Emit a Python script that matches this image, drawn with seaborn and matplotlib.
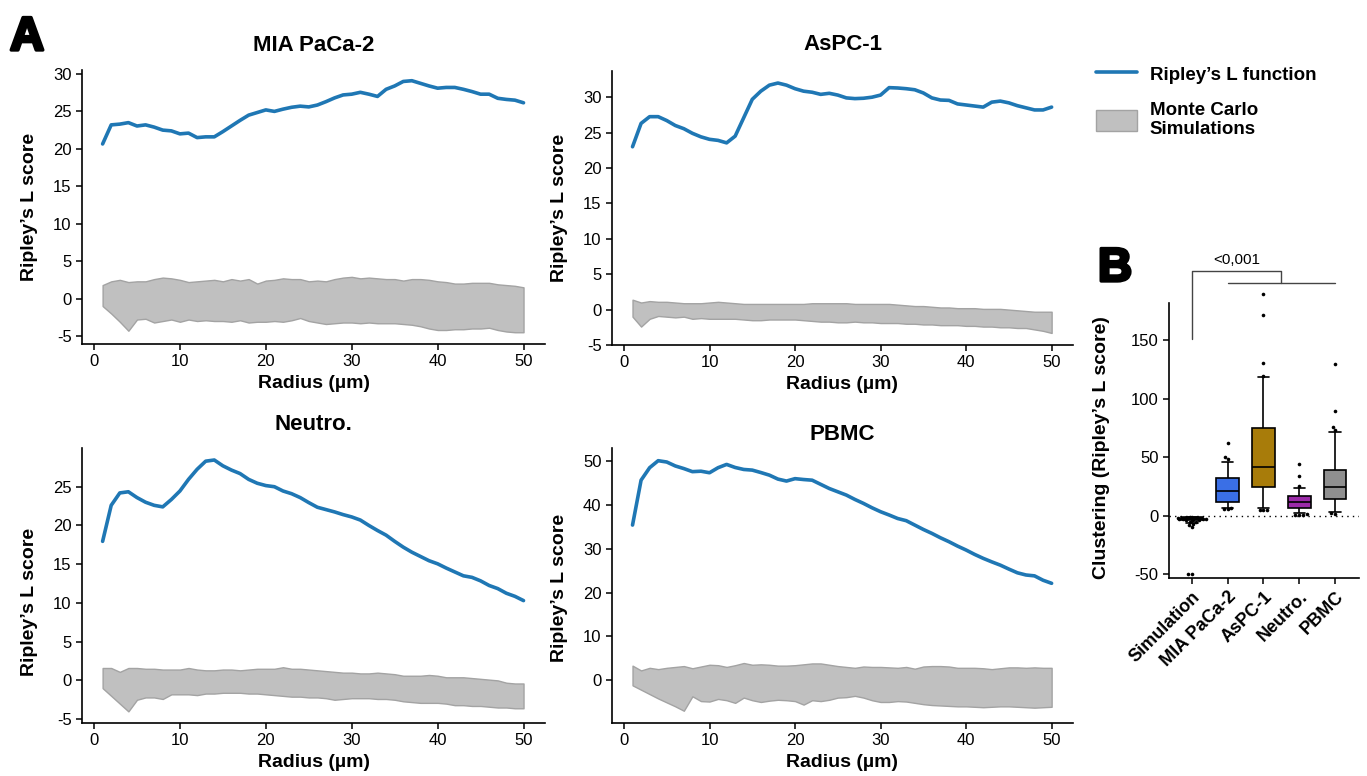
import numpy as np
import pandas as pd
import matplotlib
matplotlib.use("Agg")
import matplotlib.pyplot as plt
import matplotlib.patheffects as pe
from matplotlib.lines import Line2D
from matplotlib.patches import Patch
import seaborn as sns

# ---- data ----
radius = list(range(1, 51))

mia_L = [20.65, 23.2, 23.3, 23.5, 23.05, 23.2, 22.9, 22.5, 22.4, 22.0,
         22.1, 21.5, 21.6, 21.6, 22.3, 23.05, 23.8, 24.5, 24.85, 25.2,
         25.0, 25.3, 25.55, 25.7, 25.6, 25.85, 26.3, 26.8, 27.2, 27.3,
         27.55, 27.3, 27.0, 27.95, 28.4, 29.0, 29.1, 28.75, 28.4, 28.1,
         28.2, 28.2, 27.95, 27.65, 27.3, 27.3, 26.75, 26.6, 26.5, 26.15]
mia_hi = [1.8, 2.3, 2.5, 2.2, 2.3, 2.3, 2.6, 2.8, 2.7, 2.5,
          2.2, 2.3, 2.4, 2.5, 2.3, 2.6, 2.4, 2.6, 2.0, 2.4,
          2.5, 2.7, 2.6, 2.6, 2.3, 2.4, 2.3, 2.6, 2.8, 2.9,
          2.7, 2.8, 2.7, 2.6, 2.6, 2.4, 2.6, 2.6, 2.5, 2.3,
          2.2, 2.0, 2.0, 2.1, 2.1, 2.1, 1.9, 1.8, 1.7, 1.5]
mia_lo = [-1.0, -2.0, -3.1, -4.3, -2.8, -2.7, -3.2, -3.0, -2.8, -3.1,
          -2.8, -3.0, -2.9, -3.0, -3.0, -3.1, -2.9, -3.2, -3.1, -3.1,
          -3.0, -3.1, -2.9, -2.6, -3.0, -3.2, -3.4, -3.3, -3.2, -3.2,
          -3.3, -3.2, -3.3, -3.3, -3.3, -3.4, -3.5, -3.7, -4.0, -4.2,
          -4.2, -4.1, -4.1, -4.0, -4.0, -3.9, -4.2, -4.4, -4.5, -4.5]

aspc_L = [23.0, 26.3, 27.25, 27.25, 26.7, 26.0, 25.55, 24.9, 24.4, 24.05,
          23.9, 23.55, 24.5, 27.1, 29.7, 30.85, 31.7, 32.0, 31.7, 31.2,
          30.85, 30.7, 30.4, 30.55, 30.3, 29.9, 29.8, 29.85, 30.0, 30.3,
          31.35, 31.3, 31.2, 31.05, 30.6, 29.9, 29.6, 29.55, 29.05, 28.9,
          28.75, 28.6, 29.3, 29.45, 29.2, 28.8, 28.5, 28.2, 28.2, 28.6]
aspc_hi = [1.4, 1.0, 1.2, 1.1, 1.1, 1.0, 0.9, 0.9, 0.9, 1.0,
           1.1, 1.0, 0.9, 0.8, 0.8, 0.8, 0.8, 0.8, 0.8, 0.8,
           0.8, 0.9, 0.9, 0.9, 0.9, 0.9, 0.8, 0.8, 0.8, 0.8,
           0.8, 0.7, 0.6, 0.5, 0.5, 0.4, 0.3, 0.3, 0.2, 0.2,
           0.2, 0.1, 0.1, 0.1, 0.0, -0.1, -0.2, -0.3, -0.3, -0.3]
aspc_lo = [-1.0, -2.4, -1.3, -0.9, -1.0, -1.1, -1.0, -1.3, -1.2, -1.3,
           -1.3, -1.3, -1.3, -1.4, -1.5, -1.5, -1.4, -1.4, -1.4, -1.4,
           -1.5, -1.6, -1.7, -1.7, -1.8, -1.8, -1.7, -1.8, -1.8, -1.9,
           -1.9, -1.9, -2.0, -2.0, -2.1, -2.1, -2.2, -2.2, -2.2, -2.3,
           -2.3, -2.4, -2.4, -2.5, -2.5, -2.6, -2.6, -2.8, -3.0, -3.3]

neutro_L = [17.95, 22.6, 24.2, 24.35, 23.6, 23.0, 22.6, 22.4, 23.35, 24.45,
            25.95, 27.25, 28.3, 28.45, 27.7, 27.15, 26.7, 25.95, 25.45, 25.15,
            25.0, 24.45, 24.1, 23.6, 22.95, 22.35, 22.05, 21.75, 21.4, 21.1,
            20.7, 20.0, 19.35, 18.75, 17.95, 17.2, 16.55, 16.0, 15.45, 15.05,
            14.5, 14.0, 13.5, 13.3, 12.85, 12.25, 11.85, 11.25, 10.85, 10.3]
neutro_hi = [1.6, 1.6, 1.1, 1.6, 1.6, 1.5, 1.5, 1.4, 1.4, 1.4,
             1.6, 1.4, 1.3, 1.3, 1.4, 1.4, 1.3, 1.4, 1.5, 1.5,
             1.5, 1.7, 1.5, 1.5, 1.4, 1.3, 1.2, 1.1, 1.0, 1.0,
             0.9, 0.9, 1.0, 0.9, 0.8, 0.6, 0.6, 0.6, 0.7, 0.6,
             0.4, 0.4, 0.4, 0.3, 0.2, 0.1, 0.0, -0.3, -0.4, -0.4]
neutro_lo = [-1.0, -2.0, -3.0, -4.0, -2.5, -2.2, -2.2, -2.4, -1.8, -1.8,
             -1.8, -1.9, -1.7, -1.7, -1.6, -1.6, -1.6, -1.7, -1.7, -1.8,
             -1.9, -2.0, -2.1, -2.1, -2.2, -2.2, -2.3, -2.5, -2.4, -2.3,
             -2.3, -2.3, -2.4, -2.4, -2.5, -2.7, -2.8, -2.9, -2.9, -2.9,
             -3.0, -3.2, -3.2, -3.3, -3.3, -3.4, -3.5, -3.5, -3.6, -3.6]

pbmc_L = [35.4, 45.65, 48.5, 50.1, 49.8, 48.9, 48.3, 47.6, 47.7, 47.35,
          48.5, 49.25, 48.55, 48.1, 47.95, 47.4, 46.8, 45.9, 45.45, 46.0,
          45.8, 45.65, 44.7, 43.75, 43.0, 42.25, 41.25, 40.35, 39.35, 38.45,
          37.7, 36.9, 36.4, 35.4, 34.4, 33.5, 32.5, 31.6, 30.6, 29.7,
          28.7, 27.8, 27.0, 26.25, 25.35, 24.5, 24.0, 23.8, 22.8, 22.1]
pbmc_hi = [3.3, 2.2, 2.8, 2.5, 2.8, 3.0, 3.2, 2.7, 3.1, 3.5,
           3.4, 3.0, 3.4, 3.9, 3.5, 3.6, 3.5, 3.3, 3.3, 3.4,
           3.6, 3.8, 3.8, 3.5, 3.2, 3.0, 2.8, 3.1, 3.0, 3.0,
           2.9, 2.8, 3.0, 2.6, 3.1, 3.2, 3.2, 3.1, 2.8, 2.8,
           2.8, 2.7, 2.5, 2.7, 2.9, 2.9, 2.8, 2.9, 2.8, 2.8]
pbmc_lo = [-1.2, -2.2, -3.2, -4.2, -5.1, -6.0, -7.0, -3.7, -4.8, -4.9,
           -4.3, -4.6, -5.2, -4.0, -4.6, -5.0, -4.7, -4.5, -4.6, -4.8,
           -5.6, -4.6, -4.8, -4.5, -4.0, -3.9, -3.6, -4.0, -4.6, -5.0,
           -5.0, -4.8, -4.9, -5.2, -5.5, -5.7, -5.8, -5.9, -6.0, -6.0,
           -6.1, -6.2, -6.1, -6.0, -6.0, -6.1, -6.2, -6.3, -6.2, -6.1]

groups = ["Simulation", "MIA PaCa-2", "AsPC-1", "Neutro.", "PBMC"]
# whisker low, Q1, median, Q3, whisker high
box_sim = [-6, -3.5, -2.5, -1.5, -1]
box_mia = [6.3, 11.4, 21, 32.3, 45.5]
box_aspc = [6.8, 24.2, 41.8, 75.2, 118.5]
box_neutro = [2, 6.3, 12, 16.8, 23.8]
box_pbmc = [2.8, 13.9, 24.7, 39, 71.2]
# individual points outside the whiskers
pts_sim = [-1.5, -2, -2, -2.5, -2.5, -3, -3, -3.5, -4, -4, -5, -5.5, -7, -8, -10, -50, -50]
pts_mia = [5.8, 6.0, 6.2, 48, 50.5, 62]
pts_aspc = [4.8, 5.0, 5.2, 119.5, 130.5, 171, 189]
pts_neutro = [0.5, 0.8, 1.0, 1.2, 25.5, 34, 44]
pts_pbmc = [1.5, 2.5, 73, 75.5, 89.5, 129.5]

box_colors = ["#111111", "#3a6fe6", "#a87c0a", "#9b2aa8", "#8f8f8f"]

# ---- style ----
sns.set_style("ticks")
plt.rcParams["font.family"] = ["Liberation Sans", "DejaVu Sans"]
plt.rcParams["axes.linewidth"] = 1.2
plt.rcParams["axes.unicode_minus"] = False
plt.rcParams["xtick.major.size"] = 4
plt.rcParams["ytick.major.size"] = 4
for key in ["text.color", "axes.labelcolor", "axes.edgecolor", "xtick.color", "ytick.color"]:
    plt.rcParams[key] = "black"

W, H = 1367, 776
fig = plt.figure(figsize=(W / 100, H / 100), dpi=100)


def px_axes(l, t, r, b):
    return fig.add_axes([l / W, 1 - b / H, (r - l) / W, (b - t) / H])


line_color = "#1f77b4"
band_face = "#c0c0c0"
band_edge = "#a3a3a3"

panels = [
    ("MIA PaCa-2", mia_L, mia_lo, mia_hi, (82, 70, 545, 344), (-6.07, 30.53), np.arange(-5, 31, 5), 14, 0.5),
    ("AsPC-1", aspc_L, aspc_lo, aspc_hi, (612, 71, 1073, 345), (-5.0, 33.7), np.arange(-5, 31, 5), 15, 0.5),
    ("Neutro.", neutro_L, neutro_lo, neutro_hi, (82, 448, 545, 723), (-5.5, 30.0), np.arange(-5, 26, 5), 13, 0.44),
    ("PBMC", pbmc_L, pbmc_lo, pbmc_hi, (612, 448, 1073, 723), (-9.8, 53.0), np.arange(0, 51, 10), 6, 0.49),
]

for title, L, lo, hi, box, ylim, yt, tpad, ylab_y in panels:
    ax = px_axes(*box)
    ax.fill_between(radius, lo, hi, facecolor=band_face, edgecolor=band_edge, linewidth=1)
    df = pd.DataFrame({"radius": radius, "L": L})
    sns.lineplot(data=df, x="radius", y="L", color=line_color, linewidth=2.6, ax=ax)
    ax.set_xlim(-1.4, 52.5)
    ax.set_ylim(*ylim)
    ax.set_xticks([0, 10, 20, 30, 40, 50])
    ax.set_yticks(yt)
    ax.tick_params(labelsize=12, width=1.1, colors="black")
    sns.despine(ax=ax)
    ax.set_title(title, fontsize=16, fontweight="bold", pad=tpad)
    ax.set_xlabel("Radius (µm)", fontsize=14, fontweight="bold", labelpad=4)
    ax.set_ylabel("Ripley’s L score", fontsize=14, fontweight="bold")
    ax.yaxis.set_label_coords(-0.095, ylab_y)

# ---- panel B ----
axB = px_axes(1169, 303, 1359, 578)
box_df = pd.DataFrame({
    "group": np.repeat(groups, 5),
    "value": box_sim + box_mia + box_aspc + box_neutro + box_pbmc,
})
pts_df = pd.DataFrame({
    "group": ["Simulation"] * len(pts_sim) + ["MIA PaCa-2"] * len(pts_mia)
    + ["AsPC-1"] * len(pts_aspc) + ["Neutro."] * len(pts_neutro) + ["PBMC"] * len(pts_pbmc),
    "value": pts_sim + pts_mia + pts_aspc + pts_neutro + pts_pbmc,
})
axB.axhline(0, color="black", linestyle=(0, (1, 3)), linewidth=1, zorder=0)
sns.boxplot(data=box_df, x="group", y="value", hue="group", order=groups, hue_order=groups,
            palette=box_colors, saturation=1, whis=(0, 100), showfliers=False, width=0.63,
            linecolor="black", linewidth=1.2, legend=False, ax=axB)
sns.swarmplot(data=pts_df, x="group", y="value", order=groups, color="black", size=2.6, ax=axB)
for coll in axB.collections:
    coll.set_clip_on(False)
axB.set_xlim(-0.64, 4.67)
axB.set_ylim(-53.2, 181.6)
axB.set_yticks([-50, 0, 50, 100, 150])
axB.tick_params(labelsize=12, width=1.1, colors="black")
axB.set_xticks(range(len(groups)))
axB.set_xticklabels(groups, rotation=45, ha="right", rotation_mode="anchor",
                    fontsize=13, fontweight="bold")
sns.despine(ax=axB)
axB.set_xlabel("")
axB.set_ylabel("Clustering (Ripley’s L score)", fontsize=14, fontweight="bold")
axB.yaxis.set_label_coords(-0.31, 0.476)

# significance bracket
axB.plot([0, 0, 2.5, 2.5], [151, 209, 209, 198.4], color="#444444", lw=1, clip_on=False)
axB.plot([1, 4], [198.4, 198.4], color="#444444", lw=1, clip_on=False)
axB.text(1.25, 212, "<0,001", ha="center", va="bottom", fontsize=11, clip_on=False)

# ---- legend ----
handles = [Line2D([0], [0], color=line_color, lw=2.6),
           Patch(facecolor=band_face, edgecolor=band_edge)]
fig.legend(handles, ["Ripley’s L function", "Monte Carlo\nSimulations"],
           loc="upper left", bbox_to_anchor=(1088 / W, 1 - 56 / H), frameon=False,
           prop={"weight": "bold", "size": 13.5}, handlelength=2.2, handleheight=1.3,
           labelspacing=0.95, borderaxespad=0, handletextpad=0.7)

# ---- panel letters ----
for letter, x, y in [("A", 10, 50), ("B", 1098, 281)]:
    fig.text(x / W, 1 - y / H, letter, fontsize=34, fontweight="bold", va="baseline", color="black",
             path_effects=[pe.Stroke(linewidth=2.4, foreground="black"), pe.Normal()])

fig.savefig("out.png", dpi=100)
